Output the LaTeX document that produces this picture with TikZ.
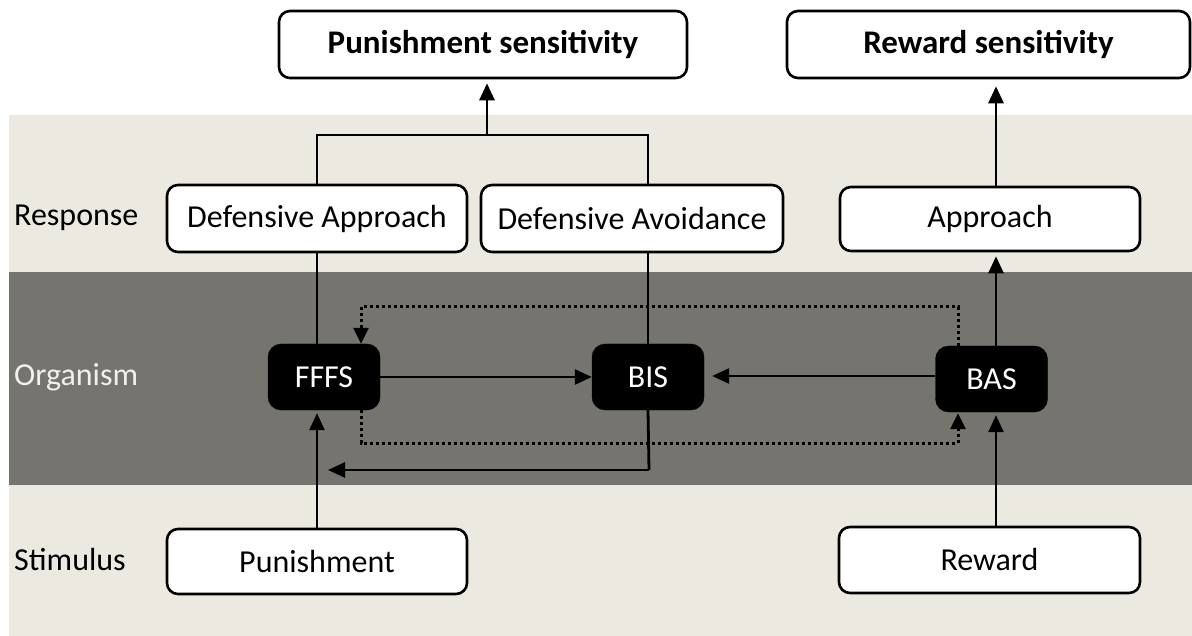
\documentclass[tikz,border=0pt]{standalone}
\usepackage{fontspec}
\setmainfont{Carlito}
\usetikzlibrary{arrows.meta}
\definecolor{beige}{RGB}{236,234,224}
\definecolor{darkband}{RGB}{118,116,111}
\definecolor{orgtext}{RGB}{240,240,238}
\begin{document}
\begin{tikzpicture}[x=1pt,y=-1pt,
  every node/.style={font=\fontsize{32}{36}\selectfont, inner sep=0pt},
  wbox/.style={draw=black, line width=2.6pt, fill=white, rounded corners=11pt, align=center},
  kbox/.style={fill=black, draw=black, rounded corners=13pt, text=white, minimum width=112pt, minimum height=66pt},
  lbl/.style={anchor=west},
  conn/.style={line width=2.8pt, draw=black},
  arr/.style={conn, -{Triangle[length=17pt,width=15pt]}},
  dots/.style={line width=3pt, draw=black, dash pattern=on 3pt off 3pt},
  darr/.style={dots, -{Triangle[length=16pt,width=15pt]}}
]
\useasboundingbox (0,0) rectangle (1192,636);
\fill[white] (0,0) rectangle (1192,636);
% bands
\fill[beige] (9,115) rectangle (1192,636);
\fill[darkband] (9,272) rectangle (1192,485);

% row labels
\node[lbl] (rlab) at (14,218) {Response};
\node[lbl, text=orgtext] (olab) at (14,377) {Organism};
\node[lbl] (slab) at (14,560) {Stimulus};

% top boxes
\node[wbox, minimum width=408pt, minimum height=67pt, font=\fontsize{33}{36}\selectfont\bfseries] (ps) at (483,44.5) {Punishment sensitivity};
\node[wbox, minimum width=403pt, minimum height=67pt, font=\fontsize{33}{36}\selectfont\bfseries] (rs) at (988.5,44.5) {Reward sensitivity};

% response boxes
\node[wbox, minimum width=300pt, minimum height=67pt] (da) at (317,218.5) {Defensive Approach};
\node[wbox, minimum width=302pt, minimum height=67pt] (dav) at (632,218.5) {Defensive Avoidance};
\node[wbox, minimum width=300pt, minimum height=64pt] (ap) at (990,219) {Approach};

% organism boxes
\node[kbox] (fffs) at (324,377) {FFFS};
\node[kbox] (bis) at (648,377) {BIS};
\node[kbox] (bas) at (991.5,379) {BAS};

% stimulus boxes
\node[wbox, minimum width=300pt, minimum height=65pt] (pun) at (317,561.5) {Punishment};
\node[wbox, minimum width=301pt, minimum height=66pt] (rew) at (989.5,560) {Reward};

% coordinates
\coordinate (brl) at (317,135);
\coordinate (brr) at (648,135);
\coordinate (brm) at (487,135);
\coordinate (topl) at (361,307);
\coordinate (topr) at (958,307);
\coordinate (botl) at (361,443);
\coordinate (botr) at (958,443);
\coordinate (bisb) at (649,470);
\coordinate (fffsb) at (328,470);

% bracket to punishment sensitivity
\draw[conn] (da.north -| brl) -- (brl) -- (brr) -- (dav.north -| brr);
\draw[arr, shorten >=4pt] (brm) -- (brm |- ps.south);
% approach to reward sensitivity
\draw[arr, shorten >=7pt] (ap.north -| 996,0) -- (rs.south -| 996,0);

% response to organism
\draw[conn] (da.south -| 317,0) -- (fffs.north -| 317,0);
\draw[conn] (dav.south -| 648,0) -- (bis.north);
\draw[arr, shorten >=4pt] (bas.north -| 996,0) -- (ap.south -| 996,0);

% organism internal
\draw[arr] (fffs.east) -- (bis.west);
\draw[arr, shorten >=8pt] (bas.west |- 0,376) -- (bis.east |- 0,376);
\draw[conn] (bis.south) -- (bisb);
\draw[arr] (bisb) -- (fffsb);
\draw[dots] (bas.north -| topr) -- (topr) -- (topl);
\draw[darr] (topl) -- (fffs.north -| topl);
\draw[dots] (fffs.south -| botl) -- (botl) -- (botr);
\draw[darr, shorten >=1pt] (botr) -- (bas.south -| botr);

% stimulus to organism
\draw[arr, shorten >=3pt] (pun.north -| 317,0) -- (fffs.south -| 317,0);
\draw[arr, shorten >=3pt] (rew.north -| 996,0) -- (bas.south -| 996,0);
\end{tikzpicture}
\end{document}
